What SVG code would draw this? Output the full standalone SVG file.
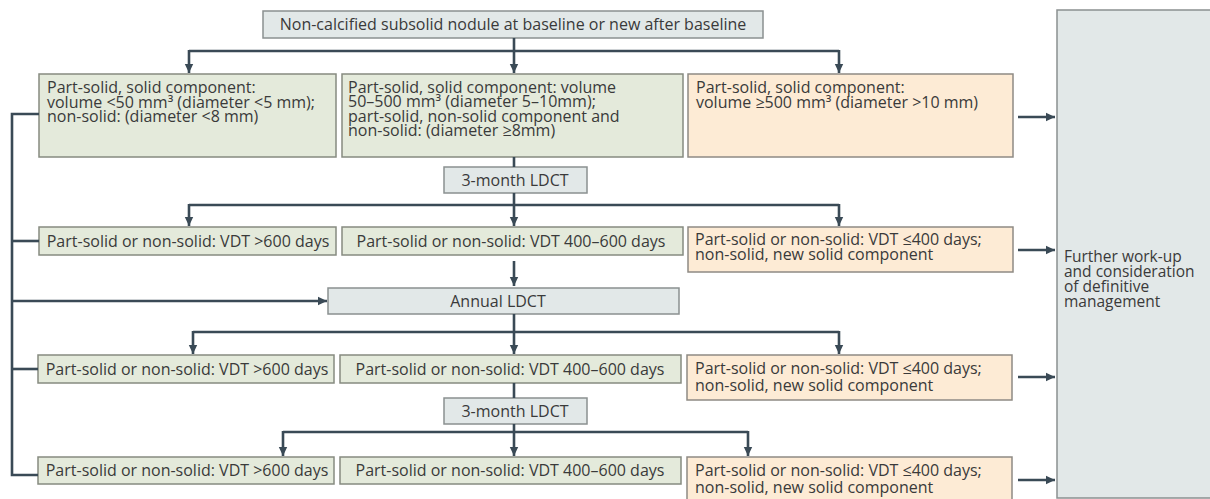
<svg xmlns="http://www.w3.org/2000/svg" width="1210" height="499" viewBox="0 0 1210 499">
<style>
  text { font-family: "Open Sans", "Liberation Sans", sans-serif; font-size: 16px; fill: #3a3a3a; }
  .c { text-anchor: middle; }
  .g { fill: #e4eadb; stroke: #868b80; stroke-width: 1.5; }
  .o { fill: #fdebd5; stroke: #8e8a84; stroke-width: 1.5; }
  .n { fill: #e2e8e8; stroke: #8a9090; stroke-width: 1.5; }
  .ln { fill: none; stroke: #3a4a56; stroke-width: 2.6; }
</style>
<defs>
  <marker id="ah" markerUnits="userSpaceOnUse" markerWidth="10" markerHeight="10" viewBox="0 0 10 10" refX="9" refY="5" orient="auto">
    <path d="M0,0.8 L9,5 L0,9.2 z" fill="#3a4a56"/>
  </marker>
</defs>
<rect x="0" y="0" width="1210" height="499" fill="#ffffff"/>

<g id="outcome">
  <rect class="n" x="1057" y="10" width="160" height="488"/>
  <text x="1064" y="262" style="font-size:15.5px">Further work-up</text>
  <text x="1064" y="277" style="font-size:15.5px">and consideration</text>
  <text x="1064" y="292" style="font-size:15.5px">of definitive</text>
  <text x="1064" y="307" style="font-size:15.5px">management</text>
</g>

<g id="start">
  <rect class="n" x="263" y="11" width="500" height="27"/>
  <text class="c" x="513" y="30">Non-calcified subsolid nodule at baseline or new after baseline</text>
</g>

<g id="r1-small">
  <rect class="g" x="39" y="74" width="297" height="83"/>
  <text x="47" y="93">Part-solid, solid component:</text>
  <text x="47" y="107.5">volume &lt;50 mm³ (diameter &lt;5 mm);</text>
  <text x="47" y="122">non-solid: (diameter &lt;8 mm)</text>
</g>
<g id="r1-mid">
  <rect class="g" x="342" y="74" width="341" height="83"/>
  <text x="348" y="92.5">Part-solid, solid component: volume</text>
  <text x="348" y="107">50–500 mm³ (diameter 5–10mm);</text>
  <text x="348" y="121.5">part-solid, non-solid component and</text>
  <text x="348" y="136">non-solid: (diameter ≥8mm)</text>
</g>
<g id="r1-large">
  <rect class="o" x="688" y="74" width="325" height="83"/>
  <text x="696" y="93">Part-solid, solid component:</text>
  <text x="696" y="107.5">volume ≥500 mm³ (diameter &gt;10 mm)</text>
</g>

<g id="ldct3a">
  <rect class="n" x="444" y="167" width="143" height="26"/>
  <text class="c" x="515" y="185.5">3-month LDCT</text>
</g>

<g id="r2-slow">
  <rect class="g" x="39" y="227" width="297" height="28"/>
  <text class="c" x="188" y="246.5">Part-solid or non-solid: VDT &gt;600 days</text>
</g>
<g id="r2-mid">
  <rect class="g" x="342" y="227" width="341" height="28"/>
  <text class="c" x="511" y="246.5">Part-solid or non-solid: VDT 400–600 days</text>
</g>
<g id="r2-fast">
  <rect class="o" x="688" y="227" width="325" height="45"/>
  <text x="695" y="245">Part-solid or non-solid: VDT ≤400 days;</text>
  <text x="695" y="259.5">non-solid, new solid component</text>
</g>

<g id="annual">
  <rect class="n" x="328" y="288" width="351" height="26"/>
  <text class="c" x="498" y="306.5">Annual LDCT</text>
</g>

<g id="r3-slow">
  <rect class="g" x="38" y="355" width="296" height="28"/>
  <text class="c" x="187" y="374.5">Part-solid or non-solid: VDT &gt;600 days</text>
</g>
<g id="r3-mid">
  <rect class="g" x="340" y="355" width="341" height="28"/>
  <text class="c" x="510" y="374.5">Part-solid or non-solid: VDT 400–600 days</text>
</g>
<g id="r3-fast">
  <rect class="o" x="687" y="355" width="325" height="45"/>
  <text x="695" y="374">Part-solid or non-solid: VDT ≤400 days;</text>
  <text x="695" y="391">non-solid, new solid component</text>
</g>

<g id="ldct3b">
  <rect class="n" x="444" y="398" width="143" height="26"/>
  <text class="c" x="515" y="416.5">3-month LDCT</text>
</g>

<g id="r4-slow">
  <rect class="g" x="38" y="457" width="296" height="27"/>
  <text class="c" x="187" y="476">Part-solid or non-solid: VDT &gt;600 days</text>
</g>
<g id="r4-mid">
  <rect class="g" x="340" y="457" width="341" height="27"/>
  <text class="c" x="510" y="476">Part-solid or non-solid: VDT 400–600 days</text>
</g>
<g id="r4-fast">
  <rect class="o" x="687" y="457" width="325" height="45"/>
  <text x="695" y="476">Part-solid or non-solid: VDT ≤400 days;</text>
  <text x="695" y="493">non-solid, new solid component</text>
</g>

<g id="connectors">
  <path class="ln" d="M514,38 V73" marker-end="url(#ah)"/>
  <path class="ln" d="M189,51 H839"/>
  <path class="ln" d="M189,50 V73" marker-end="url(#ah)"/>
  <path class="ln" d="M839,50 V73" marker-end="url(#ah)"/>

  <path class="ln" d="M39,114 H12 V475 H38"/>
  <path class="ln" d="M12,241 H39"/>
  <path class="ln" d="M12,369 H38"/>
  <path class="ln" d="M12,301 H327" marker-end="url(#ah)"/>

  <path class="ln" d="M514,157 V167"/>
  <path class="ln" d="M514,193 V226" marker-end="url(#ah)"/>
  <path class="ln" d="M189,205 H839"/>
  <path class="ln" d="M189,204 V226" marker-end="url(#ah)"/>
  <path class="ln" d="M839,204 V226" marker-end="url(#ah)"/>

  <path class="ln" d="M514,261 V286" marker-end="url(#ah)"/>

  <path class="ln" d="M514,314 V354" marker-end="url(#ah)"/>
  <path class="ln" d="M193,332 H839"/>
  <path class="ln" d="M193,331 V354" marker-end="url(#ah)"/>
  <path class="ln" d="M839,331 V354" marker-end="url(#ah)"/>

  <path class="ln" d="M514,383 V398"/>
  <path class="ln" d="M514,424 V456" marker-end="url(#ah)"/>
  <path class="ln" d="M283,432 H748"/>
  <path class="ln" d="M283,431 V456" marker-end="url(#ah)"/>
  <path class="ln" d="M748,431 V456" marker-end="url(#ah)"/>

  <path class="ln" d="M1018,117 H1055" marker-end="url(#ah)"/>
  <path class="ln" d="M1018,250 H1055" marker-end="url(#ah)"/>
  <path class="ln" d="M1018,377 H1055" marker-end="url(#ah)"/>
  <path class="ln" d="M1018,480 H1055" marker-end="url(#ah)"/>
</g>
</svg>
